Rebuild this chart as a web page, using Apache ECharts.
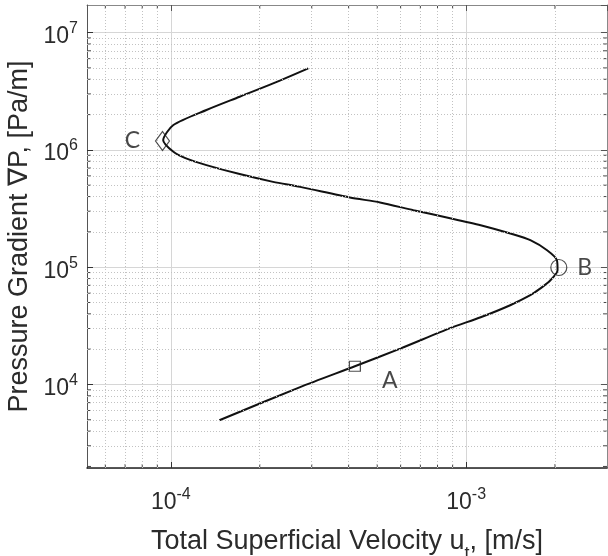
<!DOCTYPE html>
<html><head><meta charset="utf-8">
<script src="https://cdn.jsdelivr.net/npm/echarts@6/dist/echarts.min.js"></script>
<style>html,body{margin:0;padding:0;background:#fff}#c{width:608px;height:556px}</style>
</head><body><div id="c"></div>
<script>
// Curve: total superficial velocity u_t [m/s] vs pressure gradient [Pa/m]
const curveU = [1.46e-4, 2.74e-4, 4.20e-4, 5.98e-4, 8.83e-4, 1.12e-3, 1.41e-3, 1.65e-3, 1.78e-3, 1.93e-3, 2.04e-3,
  2.03e-3, 1.88e-3, 1.65e-3, 1.45e-3, 1.12e-3, 8.60e-4, 6.63e-4, 5.11e-4, 4.04e-4, 2.74e-4, 2.22e-4, 1.71e-4, 1.32e-4, 1.12e-4, 1.02e-4,
  9.42e-5, 1.02e-4, 1.32e-4, 1.71e-4, 2.22e-4, 2.92e-4];
const curveDP = [4950, 9500, 14300, 20200, 30200, 37400, 47400, 57700, 65600, 77400, 94300,
  114700, 139600, 170000, 190100, 228200, 265600, 306400, 356500, 393000, 484000, 534000, 622000, 742000, 851000, 963000,
  1210000, 1630000, 2190000, 2840000, 3690000, 4960000];
// Marked points
const pointA = [4.2e-4, 14300];
const pointB = [2.06e-3, 99400];
const pointC = [9.37e-5, 1.19e6];
const pointNames = ['A', 'B', 'C'];
// Minor grid / tick values
const xMinor = [6e-5, 7e-5, 8e-5, 9e-5, 2e-4, 3e-4, 4e-4, 5e-4, 6e-4, 7e-4, 8e-4, 9e-4, 2e-3];
const yMinor = [2e3, 3e3, 4e3, 5e3, 6e3, 7e3, 8e3, 9e3, 2e4, 3e4, 4e4, 5e4, 6e4, 7e4, 8e4, 9e4,
  2e5, 3e5, 4e5, 5e5, 6e5, 7e5, 8e5, 9e5, 2e6, 3e6, 4e6, 5e6, 6e6, 7e6, 8e6, 9e6];
const xRange = [5.2e-5, 3.0e-3];
const yRange = [1940, 1.72e7];

const chart = echarts.init(document.getElementById('c'), null, {renderer: 'canvas'});
const FONT = 'Liberation Sans, Arial, sans-serif';
const TXT = '#2b2b2b';
const expLabel = v => '{b|10}{s|' + Math.round(Math.log10(v)) + '}';
const labelRich = {
  b: {fontSize: 23, lineHeight: 24, padding: [8, 0, 0, 0], fontFamily: FONT, color: TXT},
  s: {fontSize: 16, lineHeight: 20, verticalAlign: 'top', fontFamily: FONT, color: TXT}
};
const data = curveU.map((u, i) => [u, curveDP[i]]);
const mkPoint = (p, symbol, size, name, offset) => ({
  type: 'scatter', data: [p], symbol: symbol, symbolSize: size, z: 5,
  itemStyle: {color: 'rgba(0,0,0,0)', borderColor: '#222', borderWidth: 1.2},
  label: {show: true, position: 'inside', offset: offset, formatter: name,
    fontFamily: 'Lato, sans-serif', fontSize: 23, color: '#1a1a1a'}
});
const minorLines = xMinor.filter(v => v > xRange[0]).map(v => [{coord: [v, yRange[0]]}, {coord: [v, yRange[1]]}])
  .concat(yMinor.filter(v => v > 2500).map(v => [{coord: [xRange[0], v]}, {coord: [xRange[1], v]}]));
// minor tick marks (inside, on all four sides)
const xTickData = xMinor.map(v => [v, 0]);
const yTickData = yMinor.map(v => [0, v]);
const TL = 4;
const tickSeries = (tickData, vertical) => ({
  type: 'custom', data: tickData, z: 3, silent: true, clip: false,
  renderItem: (params, api) => {
    const v = api.value(vertical ? 0 : 1);
    let a, b, ch;
    if (vertical) {
      a = api.coord([v, yRange[0]]); b = api.coord([v, yRange[1]]);
      ch = [{x1: a[0], y1: a[1], x2: a[0], y2: a[1] - TL}, {x1: b[0], y1: b[1], x2: b[0], y2: b[1] + TL}];
    } else {
      a = api.coord([xRange[0], v]); b = api.coord([xRange[1], v]);
      ch = [{x1: a[0], y1: a[1], x2: a[0] + TL, y2: a[1]}, {x1: b[0], y1: b[1], x2: b[0] - TL, y2: b[1]}];
    }
    return {type: 'group', children: ch.map(s => ({type: 'line', shape: s, style: {stroke: '#444', lineWidth: 1}}))};
  }
});
const frameAxis = {show: true, lineStyle: {color: '#888', width: 1}};
chart.setOption({
  animation: false,
  grid: {left: 87, right: 1, top: 5, bottom: 88, show: false, containLabel: false, outerBoundsMode: 'none'},
  xAxis: [{
    type: 'log', logBase: 10, min: xRange[0], max: xRange[1],
    name: 'Total Superficial Velocity u{sub|t}, [m/s]', nameLocation: 'middle', nameGap: 47,
    nameTextStyle: {fontSize: 27, fontFamily: FONT, color: TXT, lineHeight: 44,
      rich: {sub: {fontSize: 18, lineHeight: 18, verticalAlign: 'bottom', fontFamily: FONT, color: TXT}}},
    axisLine: {show: true, lineStyle: {color: '#222', width: 1.5}},
    axisTick: {show: true, inside: true, length: 6, lineStyle: {color: '#333'}},
    axisLabel: {formatter: expLabel, rich: labelRich, margin: 19, showMinLabel: false, showMaxLabel: false},
    splitLine: {show: true, lineStyle: {color: '#d6d6d6', width: 1}}
  }, {
    type: 'log', logBase: 10, min: xRange[0], max: xRange[1], position: 'top',
    axisLine: frameAxis, axisTick: {show: true, inside: true, length: 6, lineStyle: {color: '#555'}},
    axisLabel: {show: false}, splitLine: {show: false}
  }],
  yAxis: [{
    type: 'log', logBase: 10, min: yRange[0], max: yRange[1],
    name: 'Pressure Gradient \u2207P, [Pa/m]', nameLocation: 'middle', nameGap: 52,
    nameTextStyle: {fontSize: 27, fontFamily: FONT, color: TXT},
    axisLine: {show: true, lineStyle: {color: '#555', width: 1}},
    axisTick: {show: true, inside: true, length: 6, lineStyle: {color: '#333'}},
    axisLabel: {formatter: expLabel, rich: labelRich, margin: 9, showMinLabel: false, showMaxLabel: false},
    splitLine: {show: true, lineStyle: {color: '#d6d6d6', width: 1}}
  }, {
    type: 'log', logBase: 10, min: yRange[0], max: yRange[1], position: 'right',
    axisLine: frameAxis, axisTick: {show: true, inside: true, length: 6, lineStyle: {color: '#555'}},
    axisLabel: {show: false}, splitLine: {show: false}
  }],
  series: [
    {type: 'line', data: [], z: 1, silent: true,
      markLine: {silent: true, symbol: 'none', label: {show: false}, animation: false,
        lineStyle: {type: [1, 2], color: '#c2c2c2', width: 1}, data: minorLines}},
    tickSeries(xTickData, true),
    tickSeries(yTickData, false),
    {type: 'line', data: data, smooth: 0.25, showSymbol: false, z: 4,
      lineStyle: {color: '#111', width: 2}},
    mkPoint(pointA, 'rect', [11, 10], pointNames[0], [35, 14]),
    mkPoint(pointB, 'circle', 16, pointNames[1], [26, 0]),
    mkPoint(pointC, 'diamond', [14, 19], pointNames[2], [-30, 0])
  ]
});
</script></body></html>
